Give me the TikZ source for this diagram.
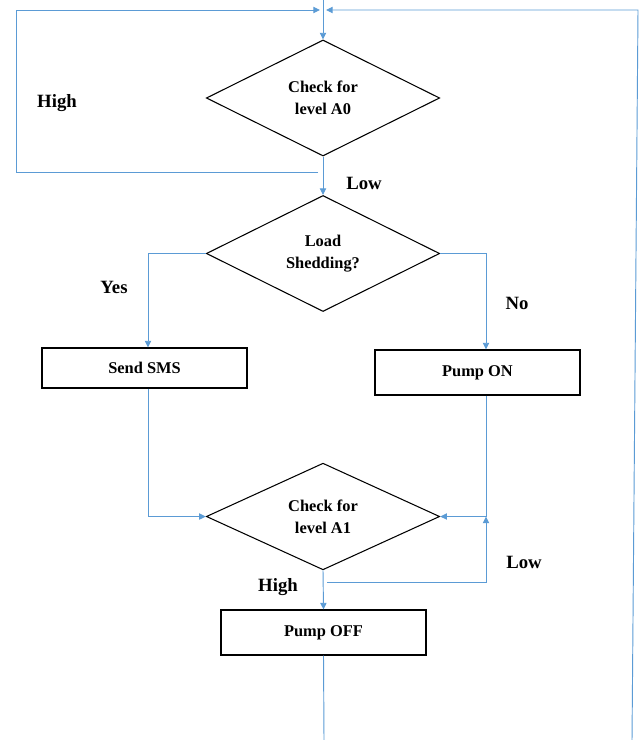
\documentclass[tikz,border=0pt]{standalone}
\usepackage{fontspec}
\setmainfont{Liberation Serif}
\usetikzlibrary{arrows.meta,shapes.geometric}

\definecolor{flowblue}{RGB}{91,155,213}

\begin{document}
\begin{tikzpicture}[x=0.03cm, y=-0.03cm,
    decision/.style={draw, diamond, line width=0.9pt, aspect=2,
      minimum width=7cm, minimum height=3.48cm, inner sep=0pt,
      align=center, font=\fontsize{14}{18.5}\selectfont\bfseries},
    process/.style={draw, rectangle, line width=0.9pt,
      minimum width=6.15cm, minimum height=1.25cm,
      font=\fontsize{14}{16}\selectfont\bfseries},
    flow/.style={draw=flowblue, line width=0.8pt},
    arr/.style={flow, -{Triangle[length=2mm, width=1.9mm]}},
    lbl/.style={font=\fontsize{16}{18}\selectfont\bfseries}]
    \useasboundingbox (0,0) rectangle (642,740);

    \node [decision] (dA0) at (323, 98) {Check for\\level A0};
    \node [decision] (dLS) at (323, 253.5) {Load\\Shedding?};
    \node [process, minimum height=1.2cm] (sms) at (144.5, 368) {Send SMS};
    \node [process, minimum height=1.35cm] (pon) at (477.5, 372.5) {Pump ON};
    \node [decision, minimum height=3.2cm] (dA1) at (323, 516.5) {Check for\\level A1};
    \node [process, minimum height=1.35cm] (poff) at (323.5, 632.5) {Pump OFF};

    \coordinate (top) at (323, 0);
    \coordinate (joinL) at (320, 10);
    \coordinate (joinR) at (326, 10);
    \coordinate (loopTL) at (16, 10);
    \coordinate (loopBL) at (16, 172);
    \coordinate (loopS) at (318, 172);
    \coordinate (backTR) at (638, 10);
    \coordinate (backBR) at (632, 740);
    \coordinate (colL) at (148, 0);
    \coordinate (colR) at (486, 0);
    \coordinate (lowS) at (327, 582);
    \coordinate (bottom) at (324, 740);

    % main line
    \draw [arr] (top) -- (dA0.north);
    \draw [arr] (dA0.south) -- (dLS.north);
    \draw [arr] (dLS.west) -| (sms.north -| colL);
    \draw [arr] (dLS.east) -| (pon.north -| colR);
    \draw [arr] (sms.south -| colL) |- (dA1.west);
    \draw [arr] (pon.south -| colR) |- (dA1.east);
    \draw [arr] (dA1.south) -- (poff.north);
    \draw [flow] (poff.south) -- (bottom);

    % loops
    \draw [arr] (loopS) -- (loopBL) -- (loopTL) -- (joinL);
    \draw [arr] (backBR) -- (backTR) -- (joinR);
    \draw [arr] (lowS) -| (dA1.east -| colR);

    \node [lbl] (high0) at (57, 103) {High};
    \node [lbl] (low0) at (364, 183) {Low};
    \node [lbl] (yes) at (114, 287) {Yes};
    \node [lbl] (no) at (517, 303) {No};
    \node [lbl] (high1) at (278, 587) {High};
    \node [lbl] (low1) at (524, 562) {Low};
\end{tikzpicture}
\end{document}
